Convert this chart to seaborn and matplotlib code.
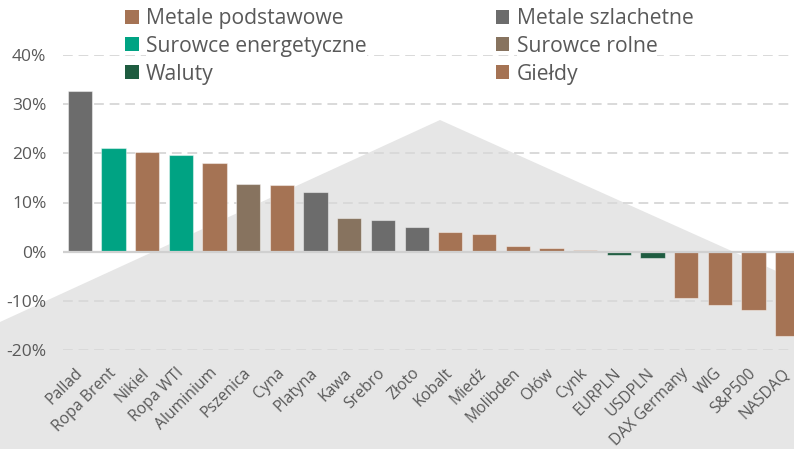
import matplotlib
matplotlib.use("Agg")
import matplotlib.pyplot as plt
from matplotlib.patches import Polygon, Patch
from matplotlib.ticker import FuncFormatter
import seaborn as sns
import pandas as pd

# dane z wykresu (zmiana w %)
names = ["Pallad", "Ropa Brent", "Nikiel", "Ropa WTI", "Aluminium", "Pszenica", "Cyna",
         "Platyna", "Kawa", "Srebro", "Złoto", "Kobalt", "Miedź", "Molibden", "Ołów",
         "Cynk", "EURPLN", "USDPLN", "DAX Germany", "WIG", "S&P500", "NASDAQ"]
values = [32.7, 21.0, 20.3, 19.6, 18.0, 13.7, 13.5, 12.2, 6.9, 6.5, 5.0, 3.9, 3.5, 1.2,
          0.8, 0.35, -0.7, -1.3, -9.5, -10.9, -11.9, -17.1]
groups = ["Metale szlachetne", "Surowce energetyczne", "Metale podstawowe", "Surowce energetyczne",
          "Metale podstawowe", "Surowce rolne", "Metale podstawowe", "Metale szlachetne",
          "Surowce rolne", "Metale szlachetne", "Metale szlachetne", "Metale podstawowe",
          "Metale podstawowe", "Metale podstawowe", "Metale podstawowe", "Metale podstawowe",
          "Waluty", "Waluty", "Giełdy", "Giełdy", "Giełdy", "Giełdy"]

group_order = ["Metale podstawowe", "Surowce energetyczne", "Waluty",
               "Metale szlachetne", "Surowce rolne", "Giełdy"]
colors = {
    "Metale podstawowe": "#a57354",
    "Surowce energetyczne": "#00a383",
    "Waluty": "#1e5c40",
    "Metale szlachetne": "#6c6c6c",
    "Surowce rolne": "#87735f",
    "Giełdy": "#a57354",
}

sns.set_style("white")
plt.rcParams['font.family'] = ['Open Sans', 'DejaVu Sans']

df = pd.DataFrame({"Nazwa": names, "Zmiana": values, "Grupa": groups})

W, H = 794, 449
fig = plt.figure(figsize=(W / 100, H / 100), dpi=100)

# dekoracyjne tło
bg = Polygon([(0, 1 - 322 / H), (440 / W, 1 - 120 / H), (1, 1 - 279 / H), (1, 0), (0, 0)],
             closed=True, transform=fig.transFigure, facecolor="#e6e6e6",
             edgecolor="none", zorder=-10)
fig.patches.append(bg)

ax = fig.add_axes([63 / W, 99 / H, 741 / W, 295 / H])
ax.patch.set_alpha(0)

sns.barplot(data=df, x="Nazwa", y="Zmiana", hue="Grupa", hue_order=group_order,
            palette=colors, saturation=1, dodge=False, width=0.72,
            edgecolor=(1, 1, 1, 0.45), linewidth=0.8, ax=ax, legend=False)

ax.set_xlim(-0.5, len(names) - 0.5)
ax.set_ylim(-20, 40)
ax.set_yticks(range(-20, 41, 10))
ax.yaxis.set_major_formatter(FuncFormatter(lambda v, _: f"{v:.0f}%"))
ax.set_xlabel("")
ax.set_ylabel("")

ax.set_axisbelow(True)
ax.yaxis.grid(True, linestyle=(0, (5, 3)), color="#d9d9d9", linewidth=1.4)
ax.axhline(0, color="#d0d0d0", linewidth=1.6, zorder=5)

for s in ax.spines.values():
    s.set_visible(False)

ax.tick_params(axis="y", length=0, labelsize=12.5, colors="#595959", pad=12)
ax.tick_params(axis="x", length=0, labelsize=11.3, colors="#595959", pad=15)
plt.setp(ax.get_xticklabels(), rotation=45, ha="right", va="center", rotation_mode="anchor")

handles = [Patch(facecolor=colors[g], edgecolor="none") for g in group_order]
leg = ax.legend(handles, group_order, ncol=2, loc="upper left",
                bbox_to_anchor=(125 / W, 1 - 8 / H), bbox_transform=fig.transFigure,
                frameon=False, fontsize=15.2, handlelength=0.65, handleheight=0.65,
                handletextpad=0.35, columnspacing=6.1, labelspacing=0.32,
                borderpad=0, borderaxespad=0)
for t in leg.get_texts():
    t.set_color("#595959")
    t.set_bbox(dict(facecolor="white", edgecolor="none", pad=0))

fig.savefig("out.png", dpi=100)
